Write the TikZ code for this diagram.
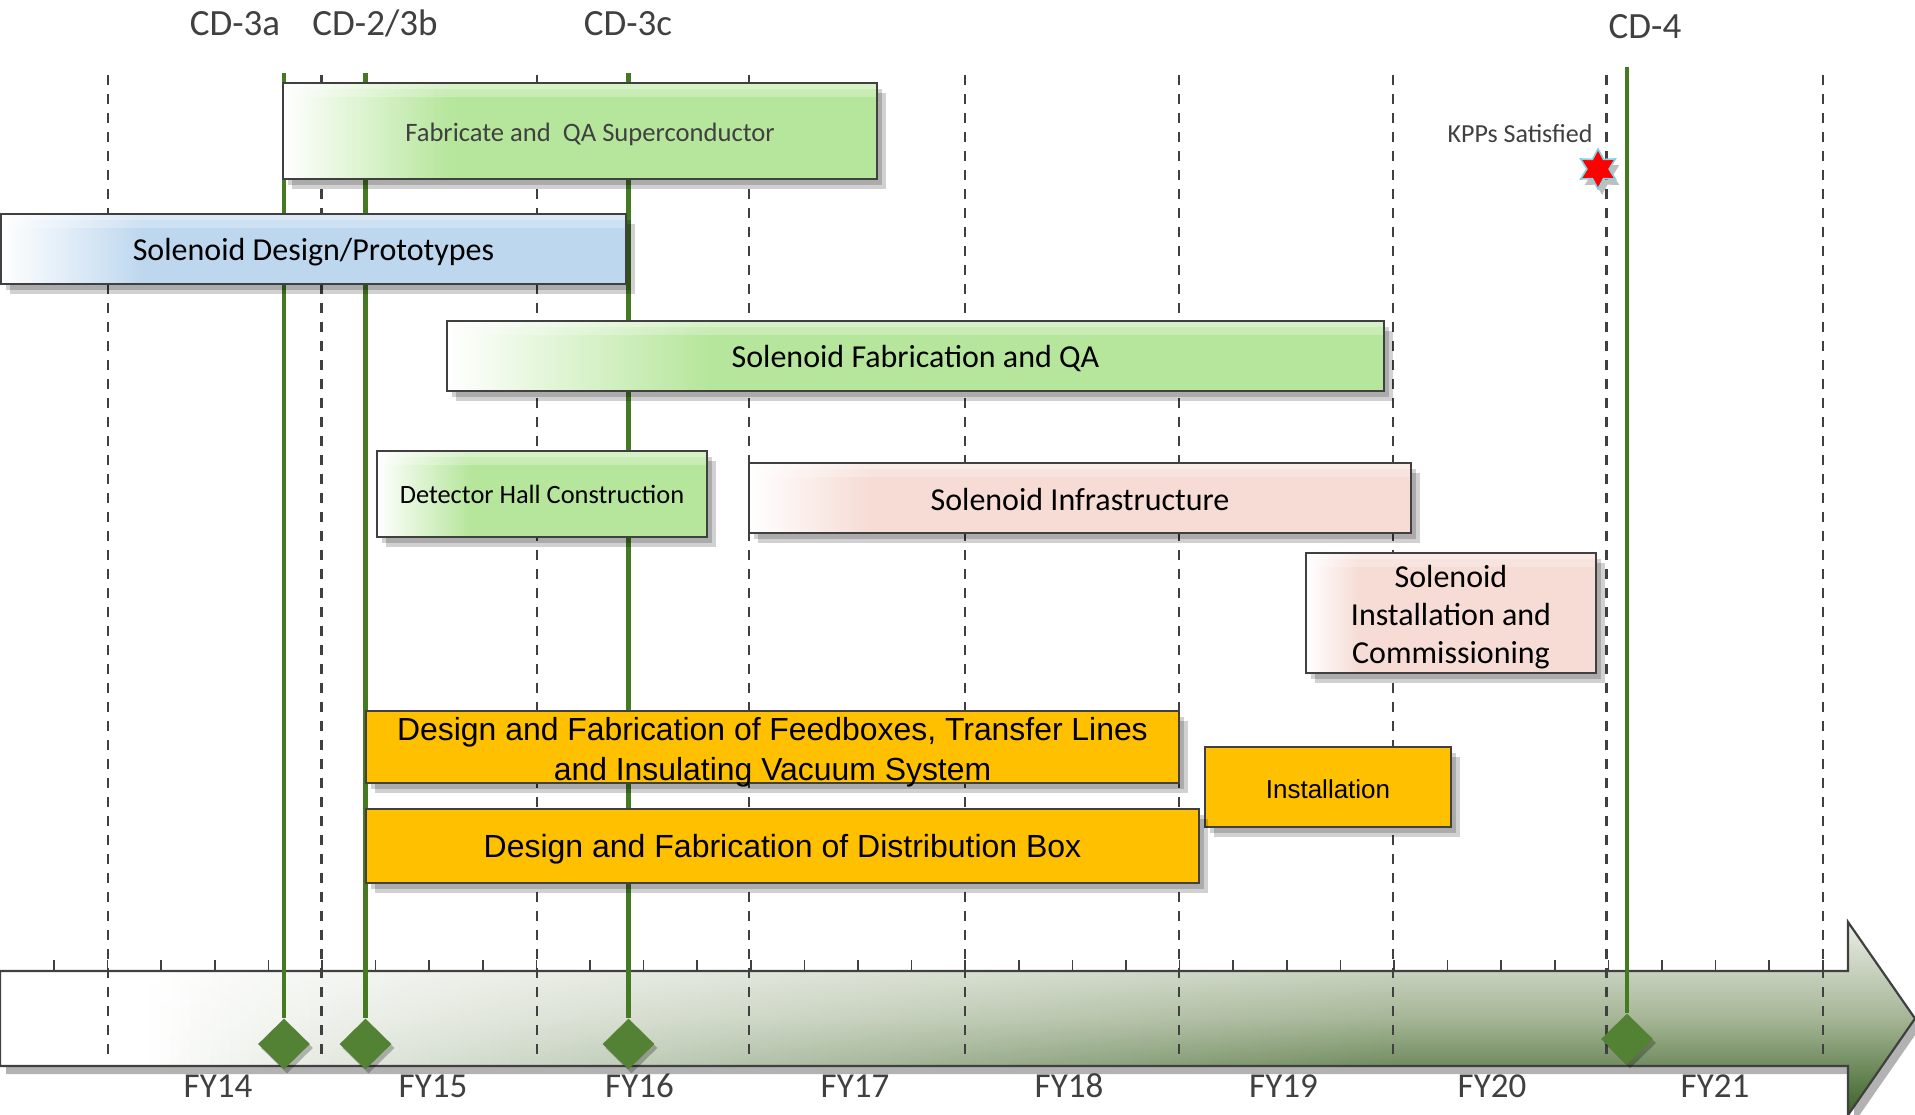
\documentclass[tikz,border=0pt]{standalone}
\usepackage{fontspec}
\setmainfont{Carlito}
\newfontfamily\arialf{Liberation Sans}
\usetikzlibrary{shapes.geometric,shadows}
\newcommand{\myfs}[2]{\fontsize{#1}{#2}\selectfont}
\definecolor{bord}{HTML}{404040}
\definecolor{txtg}{HTML}{404040}
\definecolor{gFill}{RGB}{182,230,156}
\definecolor{bFill}{RGB}{189,215,238}
\definecolor{pFill}{RGB}{246,220,213}
\definecolor{oFill}{HTML}{FFC000}
\definecolor{msLine}{HTML}{457A23}
\definecolor{msFill}{HTML}{548235}
\definecolor{barT}{HTML}{EAEEE6}
\definecolor{barM}{HTML}{A5B596}
\definecolor{barB}{HTML}{3A6226}
\definecolor{starB}{HTML}{7FD3E6}
\pgfdeclarehorizontalshading{glossG}{100bp}{color(0bp)=(white); color(25bp)=(white); color(39bp)=(gFill); color(100bp)=(gFill)}
\pgfdeclarehorizontalshading{glossB}{100bp}{color(0bp)=(white); color(25bp)=(white); color(36.5bp)=(bFill); color(100bp)=(bFill)}
\pgfdeclarehorizontalshading{glossP}{100bp}{color(0bp)=(white); color(25bp)=(white); color(34bp)=(pFill); color(100bp)=(pFill)}
\tikzset{
  shd/.style={general shadow={fill=black, opacity=0.18, shadow xshift=2.5pt, shadow yshift=-3pt},
              general shadow={fill=black, opacity=0.18, shadow xshift=4.5pt, shadow yshift=-5pt}},
  gloss/.style={path picture={
     \fill[white,opacity=0.45] (path picture bounding box.north west) rectangle ([yshift=-3pt]path picture bounding box.north east);
     \fill[white,opacity=0.25] ([yshift=-3pt]path picture bounding box.north west) rectangle ([yshift=-7pt]path picture bounding box.north east);}},
  boxbase/.style={draw=bord, line width=1pt, inner sep=0pt, shd},
  gbox/.style={boxbase, shade, shading=glossG, gloss},
  bbox/.style={boxbase, shade, shading=glossB, gloss},
  pbox/.style={boxbase, shade, shading=glossP, gloss},
  obox/.style={boxbase, fill=oFill},
  dline/.style={bord, line width=1.2pt, dash pattern=on 5pt off 4.5pt},
  tickmark/.style={bord, line width=0.8pt},
  msd/.style={diamond, aspect=1, minimum width=26pt, minimum height=25.5pt, inner sep=0pt, fill=msFill,
              general shadow={fill=black, opacity=0.25, shadow xshift=1.5pt, shadow yshift=-2pt}},
  msl/.style={msLine, line width=2.3pt},
  toplab/.style={font=\myfs{18.5}{22}, text=txtg, inner sep=0pt},
  fylab/.style={font=\myfs{17.5}{21}, text=txtg, inner sep=0pt, anchor=base},
}
\begin{document}
\begin{tikzpicture}[x=0.5pt,y=-0.5pt]
\useasboundingbox (0,0) rectangle (1915,1114);
\fill[white] (0,0) rectangle (1915,1114);
% timeline bar
\fill[black, opacity=0.3, xshift=3pt, yshift=-4pt] (0,971) -- (1848,971) -- (1848,922) -- (1915,1018.5) -- (1848,1115) -- (1848,1066) -- (0,1066) -- cycle;
\begin{scope}
\clip (0,971) -- (1848,971) -- (1848,922) -- (1915,1018.5) -- (1848,1115) -- (1848,1066) -- (0,1066) -- cycle;
\foreach \i in {0,...,191} {
  \pgfmathsetmacro{\xa}{\i*10}
  \pgfmathsetmacro{\xb}{\i*10+11}
  \pgfmathsetmacro{\myt}{max(0.0001,(\i*10+5-150)/1250)}
  \pgfmathsetmacro{\myp}{min(100,100*pow(\myt,0.85))}
  \shade[top color=barT!\myp!white, bottom color=barB!\myp!white, middle color=barM!\myp!white] (\xa,922) rectangle (\xb,1115);
}
\end{scope}
\draw[bord, line width=1.1pt] (0,971) -- (1848,971) -- (1848,922) -- (1915,1018.5) -- (1848,1115) -- (1848,1066) -- (0,1066) -- cycle;
\foreach \k in {0,...,33} \draw[tickmark] ({53.9+53.6*\k},960) -- ({53.9+53.6*\k},971);
% dashed year lines
\foreach \x in {108,321.5,537,749,965,1179,1393,1606.5,1823} \draw[dline] (\x,75) -- (\x,1054);
% milestones
\node[msd] (d3a) at (284,1044) {};
\node[msd] (d2) at (365.5,1044) {};
\node[msd] (d3c) at (628.5,1044) {};
\node[msd] (d4) at (1627,1039) {};
\coordinate (t3a) at (284,73);
\coordinate (t2) at (365.5,73);
\coordinate (t3c) at (628.5,73);
\coordinate (t4) at (1627,67);
\draw[msl] (t3a) -- (d3a);
\draw[msl] (t2) -- (d2);
\draw[msl] (t3c) -- (d3c);
\draw[msl] (t4) -- (d4);
% boxes
\node[gbox, minimum width=297pt, minimum height=48pt, font=\myfs{13.3}{16}, text=txtg, text height=10.7pt, text depth=0pt] (fab) at (580,131) {\hspace*{10pt}Fabricate and\ \ QA Superconductor};
\node[bbox, minimum width=312.5pt, minimum height=35pt, font=\myfs{16}{19}, text height=11pt, text depth=0pt] (sdp) at (313.5,249) {Solenoid Design/Prototypes};
\node[gbox, minimum width=468.5pt, minimum height=35pt, font=\myfs{16}{19}, text height=11.5pt, text depth=0pt] (sfq) at (915.5,356) {Solenoid Fabrication and QA};
\node[gbox, minimum width=165pt, minimum height=43pt, font=\myfs{13.2}{16}, text height=9.3pt, text depth=0pt] (dhc) at (542,494) {Detector Hall Construction};
\node[pbox, minimum width=331pt, minimum height=35pt, font=\myfs{16}{19}, text height=12pt, text depth=0pt] (sinf) at (1080,498) {Solenoid Infrastructure};
\node[pbox, minimum width=145pt, minimum height=60pt, font=\myfs{16}{19}, align=center] (sic) at (1451,613) {\rule{0pt}{15.2pt}Solenoid\\Installation and\\Commissioning};
\node[obox, minimum width=406.5pt, minimum height=36pt, font=\arialf\myfs{15.95}{20}, align=center, text height=33.5pt, text depth=0pt] (feed) at (772.5,747) {Design and Fabrication of Feedboxes, Transfer Lines\\and Insulating Vacuum System};
\node[obox, minimum width=123pt, minimum height=40pt, font=\arialf\myfs{13}{16}, text height=11pt, text depth=0pt] (inst) at (1328,787) {Installation};
\node[obox, minimum width=416.5pt, minimum height=37pt, font=\arialf\myfs{16}{19}, text height=11.3pt, text depth=0pt] (dist) at (782.5,846) {Design and Fabrication of Distribution Box};
% labels
\node[toplab, anchor=base] (l3a) at (235,35) {CD-3a};
\node[toplab, anchor=base] (l2) at (375,35.5) {CD-2/3b};
\node[toplab, anchor=base] (l3c) at (628,35) {CD-3c};
\node[toplab, anchor=base] (l4) at (1645,38) {CD-4};
\node[fylab] (fy14) at (218,1097) {FY14};
\node[fylab] (fy15) at (433,1097) {FY15};
\node[fylab] (fy16) at (639.5,1097) {FY16};
\node[fylab] (fy17) at (855,1097) {FY17};
\node[fylab] (fy18) at (1069,1097) {FY18};
\node[fylab] (fy19) at (1283.5,1097) {FY19};
\node[fylab] (fy20) at (1492,1097) {FY20};
\node[fylab] (fy21) at (1715,1097) {FY21};
\node[font=\myfs{13}{16}, text=txtg, inner sep=0pt] (kpp) at (1520,134) {KPPs Satisfied};
\node[star, star points=6, star point ratio=1.8, minimum size=20pt, inner sep=0pt, fill=red, draw=starB, line width=0.8pt,
      general shadow={fill=black, opacity=0.25, shadow xshift=2pt, shadow yshift=-3pt}] (kstar) at (1598,169) {};
\end{tikzpicture}
\end{document}
